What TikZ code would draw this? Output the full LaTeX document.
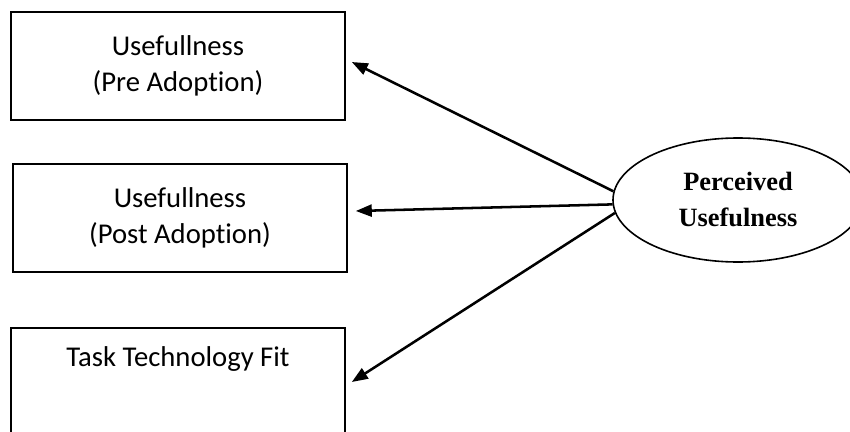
\documentclass[tikz,border=0pt]{standalone}
\usepackage{fontspec}
\newfontfamily\boxfont[RawFeature={-liga;-dlig}]{Carlito}
\newfontfamily\ovalfont{Liberation Serif}
\usetikzlibrary{shapes.geometric,arrows.meta,calc}

\begin{document}
\begin{tikzpicture}[x=0.75pt,y=-0.75pt,
  measure/.style={draw, line width=1.2pt, minimum width=250.5pt, align=center,
    inner sep=0pt, font=\boxfont\fontsize{21.5pt}{27pt}\selectfont},
  construct/.style={draw, ellipse, line width=1.2pt, minimum width=187.5pt,
    minimum height=93pt, inner sep=0pt, align=center,
    font=\ovalfont\bfseries\fontsize{19.8pt}{27pt}\selectfont},
  link/.style={line width=1.9pt, -{Triangle[length=12pt,width=9pt]}}]
  \useasboundingbox (0,0) rectangle (850,432);

  % measured variables
  \node[measure, minimum height=81pt] (pre)  at (178,66)  {Usefullness\\(Pre Adoption)};
  \node[measure, minimum height=81pt] (post) at (180,218) {Usefullness\\(Post Adoption)};
  \node[measure, minimum height=90pt] (ttf)  at (178,388) {};
  \node[anchor=base, inner sep=0pt, font=\boxfont\fontsize{21.5pt}{27pt}\selectfont]
    (ttftext) at ($(ttf.north)+(0,39)$) {Task Technology Fit};

  % latent construct
  \node[construct] (pu) at (738,200) {Perceived\\Usefulness};

  % arrow ends beside the boxes
  \coordinate (preend)  at ($(pre.east)+(6,-4)$);
  \coordinate (postend) at ($(post.east)+(8,-7)$);
  \coordinate (ttfend)  at ($(ttf.east)+(6,-6)$);

  \draw[link] (pu.176.3) -- (preend);
  \draw[link] (pu.182.3) -- (postend);
  \draw[link] (pu.186.8) -- (ttfend);
\end{tikzpicture}
\end{document}
